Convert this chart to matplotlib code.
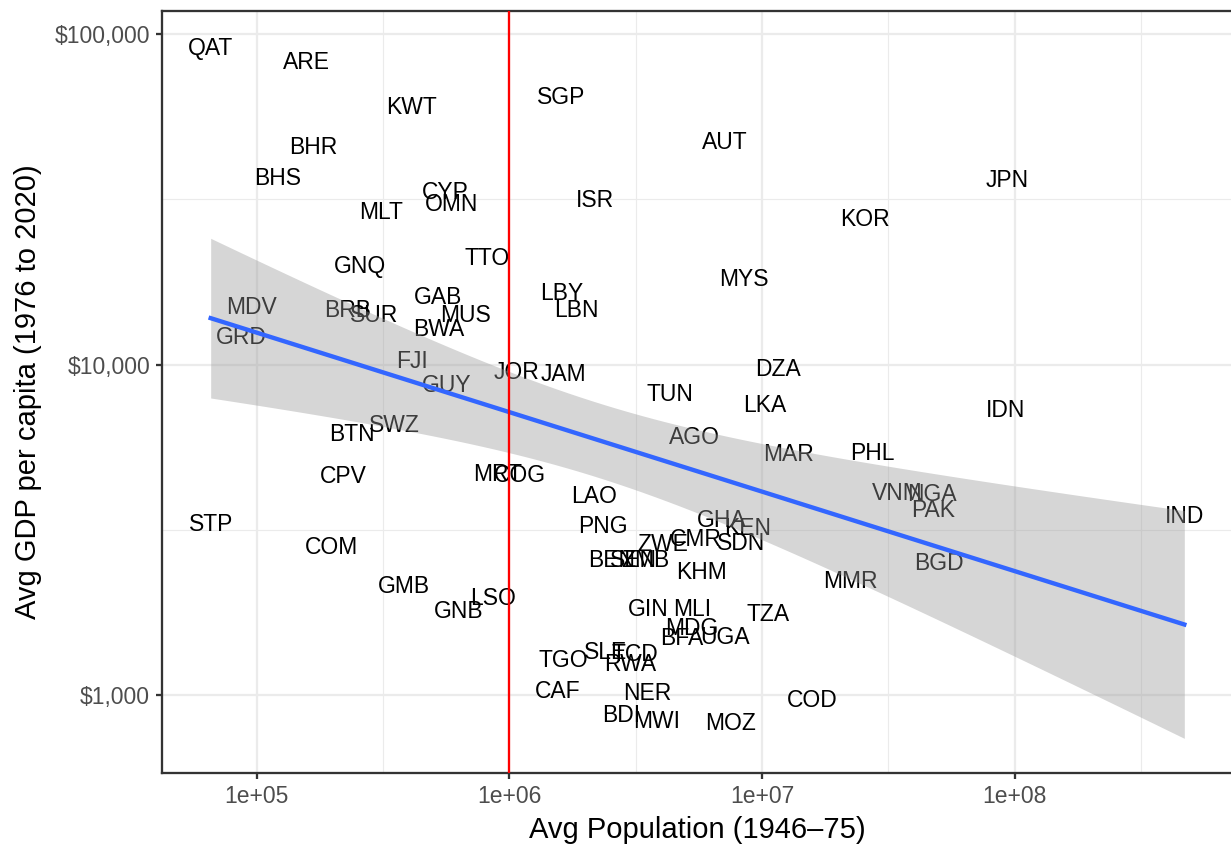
import numpy as np
import matplotlib
matplotlib.use("Agg")
import matplotlib.pyplot as plt
from matplotlib.ticker import FixedLocator, NullFormatter

plt.rcParams['font.family'] = ['Liberation Sans', 'DejaVu Sans']

codes = ['QAT', 'ARE', 'KWT', 'SGP', 'AUT', 'BHR', 'BHS', 'JPN', 'CYP', 'OMN',
         'ISR', 'MLT', 'KOR', 'TTO', 'GNQ', 'MYS', 'LBY', 'GAB', 'LBN', 'MDV',
         'BRB', 'SUR', 'MUS', 'BWA', 'GRD', 'FJI', 'DZA', 'JOR', 'JAM', 'GUY',
         'TUN', 'LKA', 'IDN', 'SWZ', 'BTN', 'AGO', 'MAR', 'PHL', 'CPV', 'MRT',
         'COG', 'LAO', 'VNM', 'NGA', 'PAK', 'IND', 'STP', 'PNG', 'GHA', 'KEN',
         'CMR', 'ZWE', 'SDN', 'COM', 'BEN', 'SEN', 'ZMB', 'BGD', 'KHM', 'MMR',
         'GMB', 'LSO', 'GNB', 'GIN', 'MLI', 'TZA', 'MDG', 'BFA', 'UGA', 'SLE',
         'TCD', 'RWA', 'TGO', 'CAF', 'NER', 'COD', 'BDI', 'MWI', 'MOZ']

# average population 1946-75
pop = [65600, 157000, 409000, 1607000, 7100000, 167600, 120800, 93500000, 558000, 590000,
       2170000, 309000, 25650000, 818000, 254900, 8510000, 1607000, 523600, 1842000, 95300,
       228500, 292300, 669900, 523600, 86900, 409600, 11610000, 1066000, 1637000, 563400,
       4337000, 10220000, 91800000, 350800, 237100, 5400000, 12690000, 27350000, 220300, 897000,
       1096000, 2171000, 34300000, 47230000, 47660000, 469800000, 65600, 2335000, 6905000, 8750000,
       5447000, 4034000, 8240000, 197500, 2535000, 3097000, 3453000, 50350000, 5754000, 22380000,
       380700, 864600, 628500, 3548000, 5300000, 10600000, 5252000, 4797000, 7161000, 2399000,
       3126000, 3013000, 1636000, 1549000, 3518000, 15820000, 2776000, 3819000, 7500000]

# average GDP per capita 1976-2020
gdp = [92200, 83600, 60800, 65600, 47700, 46100, 37150, 36600, 33700, 31000,
       31900, 29300, 27930, 21300, 20160, 18410, 16700, 16260, 14860, 15170,
       14860, 14350, 14300, 13020, 12310, 10420, 9860, 9665, 9525, 8830,
       8290, 7680, 7370, 6640, 6240, 6110, 5430, 5470, 4660, 4720,
       4700, 4055, 4140, 4110, 3680, 3530, 3340, 3295, 3434, 3251,
       3010, 2904, 2926, 2847, 2600, 2600, 2600, 2547, 2392, 2248,
       2173, 1999, 1826, 1851, 1851, 1789, 1622, 1514, 1520, 1374,
       1355, 1264, 1300, 1047, 1033, 984, 881, 850, 838]

lx = np.log10(pop)
ly = np.log10(gdp)

# linear fit on log-log scale with 95% confidence band
slope, intercept = np.polyfit(lx, ly, 1)
n = len(lx)
resid = ly - (intercept + slope * lx)
s = np.sqrt(np.sum(resid ** 2) / (n - 2))
sxx = np.sum((lx - lx.mean()) ** 2)
t_crit = 1.991
xs = np.linspace(lx.min(), lx.max(), 80)
fit = intercept + slope * xs
se = s * np.sqrt(1 / n + (xs - lx.mean()) ** 2 / sxx)
lo = fit - t_crit * se
hi = fit + t_crit * se

fig = plt.figure(figsize=(1231 / 150, 850 / 150), dpi=150)
ax = fig.add_axes([162 / 1231, 1 - 773 / 850, (1233 - 162) / 1231, (773 - 11) / 850])

for c, x, y in zip(codes, pop, gdp):
    ax.text(x, y, c, ha='center', va='center_baseline', fontsize=11, color='black', zorder=3)

ax.fill_between(10 ** xs, 10 ** lo, 10 ** hi, color='#999999', alpha=0.4, linewidth=0, zorder=4)
ax.plot(10 ** xs, 10 ** fit, color='#3366FF', linewidth=2.1, zorder=5)
ax.axvline(1e6, color='red', linewidth=1.1, zorder=6)

ax.set_xscale('log')
ax.set_yscale('log')

xr = lx.max() - lx.min()
ax.set_xlim(10 ** (lx.min() - 0.05 * xr), 10 ** (lx.max() + 0.05 * xr))
ymin = min(ly.min(), lo.min())
ymax = max(ly.max(), hi.max())
yr = ymax - ymin
ax.set_ylim(10 ** (ymin - 0.05 * yr), 10 ** (ymax + 0.05 * yr))

ax.xaxis.set_major_locator(FixedLocator([1e5, 1e6, 1e7, 1e8]))
ax.xaxis.set_minor_locator(FixedLocator([10 ** 5.5, 10 ** 6.5, 10 ** 7.5, 10 ** 8.5]))
ax.set_xticklabels(['1e+05', '1e+06', '1e+07', '1e+08'])
ax.xaxis.set_minor_formatter(NullFormatter())
ax.yaxis.set_major_locator(FixedLocator([1e3, 1e4, 1e5]))
ax.yaxis.set_minor_locator(FixedLocator([10 ** 3.5, 10 ** 4.5]))
ax.set_yticklabels(['$1,000', '$10,000', '$100,000'])
ax.yaxis.set_minor_formatter(NullFormatter())

ax.grid(which='major', color='#EBEBEB', linewidth=1.1, zorder=0)
ax.grid(which='minor', color='#EBEBEB', linewidth=0.55, zorder=0)
ax.set_axisbelow(True)
for sp in ax.spines.values():
    sp.set_color('#333333')
    sp.set_linewidth(1.1)
ax.tick_params(which='major', length=2.75, width=1.1, color='#333333',
               labelsize=11, labelcolor='#4D4D4D', pad=3)
ax.tick_params(which='minor', length=0)

ax.set_xlabel('Avg Population (1946–75)', fontsize=14, labelpad=4)
ax.set_ylabel('Avg GDP per capita (1976 to 2020)', fontsize=14, labelpad=6)

fig.savefig('out.png', dpi=150)
